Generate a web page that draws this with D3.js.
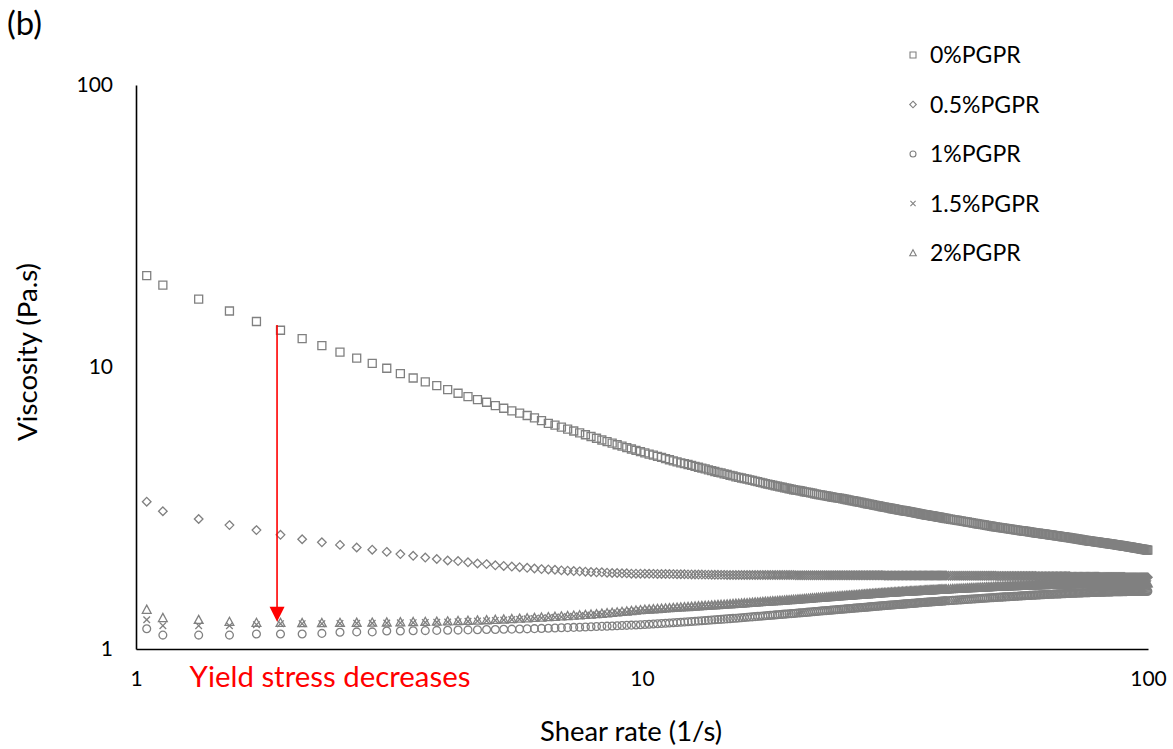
<!DOCTYPE html>
<html><head><meta charset="utf-8">
<script src="https://cdn.jsdelivr.net/npm/d3@7"></script>
<style>
body{margin:0;background:#fff}
svg{display:block}
text{font-family:Lato,"Open Sans","Liberation Sans",sans-serif}
</style>
</head><body>
<svg id="chart" width="1173" height="749"></svg>
<script>
// ---- data ----
const shearRate = [
1.05,1.13,1.33,1.53,1.73,1.93,2.13,2.33,2.53,2.73,2.93,3.13,3.33,3.53,3.73,3.93,4.13,4.33,4.53,4.73,4.93,5.13,5.33,5.53,5.73,5.93,6.13,6.33,6.53,6.73,6.93,7.13,7.33,7.53,7.73,7.93,8.13,8.33,8.53,8.73,8.93,9.13,9.33,9.53,9.73,9.93,
10.13,10.33,10.53,10.73,10.93,11.13,11.33,11.53,11.73,11.93,12.13,12.33,12.53,12.73,12.93,13.13,13.33,13.53,13.73,13.93,14.13,14.33,14.53,14.73,14.93,
15.13,15.33,15.53,15.73,15.93,16.13,16.33,16.53,16.73,16.93,17.13,17.33,17.53,17.73,17.93,18.13,18.33,18.53,18.73,18.93,19.13,19.33,19.53,19.73,19.93,
20.13,20.33,20.53,20.73,20.93,21.13,21.33,21.53,21.73,21.93,22.13,22.33,22.53,22.73,22.93,23.13,23.33,23.53,23.73,23.93,24.13,24.33,24.53,24.73,24.93,
25.13,25.33,25.53,25.73,25.93,26.13,26.33,26.53,26.73,26.93,27.13,27.33,27.53,27.73,27.93,28.13,28.33,28.53,28.73,28.93,29.13,29.33,29.53,29.73,29.93,
30.13,30.33,30.53,30.73,30.93,31.13,31.33,31.53,31.73,31.93,32.13,32.33,32.53,32.73,32.93,33.13,33.33,33.53,33.73,33.93,34.13,34.33,34.53,34.73,34.93,
35.13,35.33,35.53,35.73,35.93,36.13,36.33,36.53,36.73,36.93,37.13,37.33,37.53,37.73,37.93,38.13,38.33,38.53,38.73,38.93,39.13,39.33,39.53,39.73,39.93,
40.33,40.73,41.13,41.53,41.93,42.33,42.73,43.13,43.53,43.93,44.33,44.73,45.13,45.53,45.93,46.33,46.73,47.13,47.53,47.93,48.33,48.73,49.13,49.53,49.93,
50.33,50.73,51.13,51.53,51.93,52.33,52.73,53.13,53.53,53.93,54.33,54.73,55.13,55.53,55.93,56.33,56.73,57.13,57.53,57.93,58.33,58.73,59.13,59.53,59.93,
60.33,60.73,61.13,61.53,61.93,62.33,62.73,63.13,63.53,63.93,64.33,64.73,65.13,65.53,65.93,66.33,66.73,67.13,67.53,67.93,68.33,68.73,69.13,69.53,69.93,
70.33,70.73,71.13,71.53,71.93,72.33,72.73,73.13,73.53,73.93,74.33,74.73,75.13,75.53,75.93,76.33,76.73,77.13,77.53,77.93,78.33,78.73,79.13,79.53,79.93,
80.33,80.73,81.13,81.53,81.93,82.33,82.73,83.13,83.53,83.93,84.33,84.73,85.13,85.53,85.93,86.33,86.73,87.13,87.53,87.93,88.33,88.73,89.13,89.53,89.93,
90.33,90.73,91.13,91.53,91.93,92.33,92.73,93.13,93.53,93.93,94.33,94.73,95.13,95.53,95.93,96.33,96.73,97.13,97.53,97.93,98.33,98.73,99.13,99.53,99.93];

const pgpr0 = [
21.1,19.5,17.4,15.8,14.5,13.5,12.6,11.9,11.3,10.75,10.3,9.9,9.47,9.14,8.85,8.59,8.31,8.07,7.85,7.66,7.50,7.30,7.14,6.99,6.86,6.73,6.60,6.45,6.31,6.22,6.12,6.02,5.93,5.84,5.75,5.67,5.59,5.51,5.44,5.37,5.30,5.24,5.18,5.12,5.06,5.01,
4.96,4.91,4.87,4.82,4.78,4.73,4.69,4.65,4.61,4.57,4.54,4.51,4.48,4.44,4.41,4.38,4.35,4.32,4.29,4.26,4.23,4.21,4.18,4.16,4.13,
4.11,4.08,4.06,4.04,4.02,4.00,3.98,3.96,3.94,3.92,3.90,3.88,3.86,3.84,3.83,3.81,3.79,3.78,3.76,3.75,3.73,3.72,3.70,3.69,3.67,
3.66,3.65,3.64,3.63,3.61,3.60,3.59,3.58,3.57,3.55,3.54,3.53,3.52,3.51,3.50,3.49,3.48,3.47,3.46,3.45,3.44,3.435,3.43,3.42,3.41,
3.40,3.39,3.38,3.37,3.36,3.355,3.345,3.335,3.325,3.32,3.31,3.30,3.29,3.28,3.27,3.265,3.257,3.25,3.24,3.233,3.225,3.217,3.21,3.20,3.193,
3.185,3.178,3.17,3.164,3.157,3.15,3.143,3.136,3.13,3.122,3.116,3.11,3.104,3.098,3.092,3.086,3.08,3.074,3.068,3.062,3.056,3.05,3.044,3.038,3.032,
3.026,3.02,3.014,3.008,3.002,2.997,2.992,2.987,2.982,2.977,2.972,2.967,2.962,2.957,2.952,2.947,2.942,2.937,2.932,2.927,2.922,2.917,2.912,2.907,2.902,
2.893,2.885,2.877,2.869,2.861,2.853,2.845,2.837,2.829,2.821,2.813,2.805,2.797,2.789,2.781,2.774,2.767,2.76,2.753,2.746,2.739,2.732,2.725,2.718,2.711,
2.705,2.699,2.693,2.687,2.681,2.676,2.671,2.666,2.661,2.656,2.651,2.646,2.641,2.636,2.631,2.626,2.621,2.616,2.611,2.606,2.601,2.596,2.591,2.586,2.581,
2.577,2.573,2.569,2.565,2.561,2.557,2.553,2.549,2.545,2.541,2.537,2.533,2.529,2.525,2.521,2.517,2.513,2.509,2.505,2.501,2.497,2.493,2.489,2.485,2.481,
2.477,2.473,2.469,2.465,2.461,2.457,2.453,2.449,2.445,2.441,2.437,2.433,2.429,2.425,2.421,2.418,2.415,2.412,2.409,2.406,2.403,2.40,2.397,2.394,2.391,
2.388,2.385,2.382,2.379,2.376,2.373,2.37,2.367,2.364,2.361,2.358,2.355,2.352,2.349,2.346,2.343,2.34,2.337,2.334,2.331,2.328,2.325,2.322,2.319,2.316,
2.313,2.31,2.307,2.304,2.301,2.298,2.295,2.292,2.289,2.286,2.283,2.28,2.277,2.274,2.271,2.268,2.265,2.262,2.259,2.256,2.253,2.25,2.247,2.244,2.241];

const pgpr05 = [
3.33,3.08,2.89,2.75,2.64,2.54,2.45,2.39,2.34,2.29,2.25,2.21,2.17,2.14,2.11,2.085,2.06,2.05,2.03,2.01,2.00,1.98,1.97,1.96,1.95,1.94,1.93,1.92,1.915,1.91,1.90,1.895,1.89,1.885,1.88,1.875,1.87,1.87,1.865,1.86,1.86,1.855,1.855,1.85,1.85,1.85,
1.849,1.848,1.847,1.846,1.845,1.845,1.844,1.843,1.842,1.841,1.84,1.839,1.838,1.837,1.836,1.836,1.835,1.835,1.834,1.833,1.833,1.832,1.832,1.831,1.83,
1.83,1.83,1.83,1.83,1.83,1.83,1.83,1.83,1.83,1.83,1.83,1.83,1.83,1.83,1.83,1.83,1.83,1.83,1.83,1.83,1.83,1.83,1.83,1.83,1.83,
1.826,1.826,1.826,1.826,1.826,1.826,1.826,1.826,1.826,1.826,1.826,1.826,1.826,1.826,1.826,1.826,1.826,1.826,1.826,1.826,1.826,1.826,1.826,1.826,1.826,
1.826,1.826,1.826,1.826,1.826,1.826,1.826,1.826,1.826,1.826,1.826,1.826,1.826,1.826,1.826,1.826,1.826,1.826,1.826,1.826,1.826,1.826,1.826,1.826,1.826,
1.822,1.822,1.822,1.822,1.822,1.822,1.822,1.822,1.822,1.822,1.822,1.822,1.822,1.822,1.822,1.822,1.822,1.822,1.822,1.822,1.822,1.822,1.822,1.822,1.822,
1.822,1.822,1.822,1.822,1.822,1.822,1.822,1.822,1.822,1.822,1.822,1.822,1.822,1.822,1.822,1.822,1.822,1.822,1.822,1.822,1.822,1.822,1.822,1.822,1.822,
1.818,1.818,1.818,1.818,1.818,1.818,1.818,1.818,1.818,1.818,1.818,1.818,1.818,1.818,1.818,1.818,1.818,1.818,1.818,1.818,1.818,1.818,1.818,1.818,1.818,
1.814,1.814,1.814,1.814,1.814,1.814,1.814,1.814,1.814,1.814,1.814,1.814,1.814,1.814,1.814,1.814,1.814,1.814,1.814,1.814,1.814,1.814,1.814,1.814,1.814,
1.81,1.81,1.81,1.81,1.81,1.81,1.81,1.81,1.81,1.81,1.81,1.81,1.81,1.81,1.81,1.81,1.81,1.81,1.81,1.81,1.81,1.81,1.81,1.81,1.81,
1.805,1.805,1.805,1.805,1.805,1.805,1.805,1.805,1.805,1.805,1.805,1.805,1.805,1.805,1.805,1.805,1.805,1.805,1.805,1.805,1.805,1.805,1.805,1.805,1.805,
1.80,1.80,1.80,1.80,1.80,1.80,1.80,1.80,1.80,1.80,1.80,1.80,1.80,1.80,1.80,1.80,1.80,1.80,1.80,1.80,1.80,1.80,1.80,1.80,1.80,
1.795,1.795,1.795,1.795,1.795,1.795,1.795,1.795,1.795,1.795,1.795,1.795,1.795,1.795,1.795,1.795,1.795,1.795,1.795,1.795,1.795,1.795,1.795,1.795,1.795];

const pgpr1 = [
1.18,1.12,1.12,1.12,1.13,1.13,1.13,1.136,1.146,1.15,1.15,1.158,1.159,1.161,1.162,1.164,1.166,1.167,1.169,1.17,1.172,1.173,1.175,1.176,1.178,1.179,1.181,1.183,1.185,1.187,1.189,1.191,1.193,1.195,1.197,1.199,1.201,1.203,1.205,1.207,1.209,1.211,1.213,1.215,1.217,1.219,
1.222,1.224,1.226,1.229,1.231,1.234,1.236,1.239,1.241,1.244,1.247,1.249,1.252,1.254,1.257,1.26,1.262,1.264,1.267,1.269,1.272,1.274,1.276,1.279,1.281,
1.284,1.286,1.288,1.291,1.293,1.296,1.298,1.30,1.303,1.305,1.307,1.31,1.312,1.314,1.316,1.318,1.321,1.323,1.325,1.327,1.329,1.331,1.333,1.335,1.337,
1.339,1.341,1.343,1.345,1.347,1.349,1.351,1.353,1.355,1.357,1.359,1.361,1.363,1.365,1.366,1.368,1.37,1.372,1.374,1.375,1.377,1.379,1.381,1.383,1.384,
1.386,1.388,1.389,1.391,1.392,1.394,1.396,1.397,1.399,1.40,1.402,1.404,1.405,1.407,1.408,1.41,1.412,1.413,1.415,1.416,1.418,1.419,1.421,1.422,1.424,
1.425,1.426,1.428,1.429,1.431,1.432,1.433,1.435,1.436,1.438,1.439,1.44,1.441,1.442,1.444,1.445,1.446,1.447,1.448,1.45,1.451,1.452,1.453,1.454,1.456,
1.457,1.458,1.459,1.46,1.462,1.463,1.464,1.465,1.466,1.467,1.468,1.469,1.47,1.471,1.472,1.473,1.474,1.475,1.476,1.477,1.478,1.479,1.48,1.481,1.482,
1.483,1.485,1.487,1.489,1.491,1.492,1.494,1.496,1.498,1.50,1.501,1.503,1.505,1.506,1.508,1.509,1.511,1.513,1.514,1.516,1.517,1.519,1.52,1.521,1.523,
1.524,1.526,1.527,1.528,1.53,1.531,1.532,1.533,1.535,1.536,1.537,1.538,1.539,1.541,1.542,1.543,1.544,1.545,1.547,1.548,1.549,1.55,1.551,1.552,1.553,
1.554,1.555,1.556,1.557,1.558,1.559,1.56,1.561,1.562,1.563,1.564,1.564,1.565,1.566,1.567,1.568,1.568,1.569,1.57,1.571,1.572,1.572,1.573,1.574,1.575,
1.575,1.576,1.577,1.577,1.578,1.578,1.579,1.58,1.58,1.581,1.581,1.582,1.583,1.583,1.584,1.584,1.585,1.586,1.586,1.587,1.587,1.588,1.588,1.589,1.589,
1.589,1.59,1.59,1.591,1.591,1.591,1.592,1.592,1.593,1.593,1.593,1.594,1.594,1.595,1.595,1.595,1.596,1.596,1.597,1.597,1.597,1.597,1.598,1.598,1.598,
1.598,1.598,1.599,1.599,1.599,1.599,1.599,1.60,1.60,1.60,1.60,1.60,1.601,1.601,1.601,1.601,1.601,1.602,1.602,1.602,1.602,1.602,1.603,1.603,1.603];

const pgpr15 = [
1.27,1.21,1.21,1.21,1.22,1.23,1.23,1.23,1.232,1.233,1.234,1.236,1.238,1.24,1.242,1.244,1.247,1.25,1.253,1.256,1.259,1.263,1.267,1.271,1.275,1.279,1.283,1.287,1.291,1.295,1.299,1.303,1.307,1.311,1.315,1.319,1.323,1.328,1.333,1.338,1.343,1.348,1.353,1.358,1.363,1.368,
1.372,1.375,1.378,1.381,1.384,1.387,1.39,1.393,1.396,1.399,1.402,1.404,1.407,1.409,1.412,1.415,1.417,1.419,1.422,1.424,1.427,1.429,1.431,1.434,1.436,
1.438,1.441,1.443,1.445,1.447,1.449,1.452,1.454,1.456,1.458,1.46,1.463,1.465,1.467,1.469,1.471,1.473,1.475,1.477,1.479,1.481,1.483,1.485,1.487,1.489,
1.491,1.493,1.495,1.497,1.499,1.501,1.503,1.505,1.507,1.509,1.511,1.513,1.515,1.517,1.518,1.52,1.522,1.524,1.526,1.527,1.529,1.531,1.532,1.534,1.535,
1.537,1.539,1.54,1.542,1.543,1.545,1.547,1.548,1.55,1.551,1.553,1.555,1.556,1.558,1.559,1.561,1.562,1.564,1.565,1.567,1.568,1.569,1.571,1.572,1.574,
1.575,1.576,1.577,1.578,1.58,1.581,1.582,1.583,1.584,1.586,1.587,1.588,1.589,1.59,1.591,1.592,1.593,1.594,1.595,1.596,1.597,1.597,1.598,1.599,1.60,
1.601,1.602,1.603,1.604,1.605,1.606,1.607,1.608,1.609,1.61,1.611,1.611,1.612,1.613,1.614,1.615,1.615,1.616,1.617,1.618,1.619,1.619,1.62,1.621,1.622,
1.623,1.625,1.627,1.628,1.63,1.631,1.633,1.634,1.635,1.637,1.638,1.64,1.641,1.642,1.644,1.645,1.646,1.647,1.649,1.65,1.651,1.652,1.653,1.655,1.656,
1.657,1.658,1.659,1.66,1.661,1.662,1.663,1.664,1.665,1.666,1.667,1.667,1.668,1.669,1.67,1.671,1.671,1.672,1.673,1.674,1.675,1.675,1.676,1.677,1.678,
1.678,1.679,1.68,1.68,1.681,1.681,1.682,1.683,1.683,1.684,1.684,1.685,1.686,1.686,1.687,1.687,1.688,1.689,1.689,1.69,1.69,1.691,1.691,1.692,1.692,
1.692,1.693,1.693,1.694,1.694,1.694,1.695,1.695,1.696,1.696,1.696,1.697,1.697,1.698,1.698,1.698,1.699,1.699,1.70,1.70,1.70,1.70,1.70,1.701,1.701,
1.702,1.702,1.702,1.702,1.702,1.702,1.702,1.702,1.702,1.702,1.703,1.703,1.703,1.703,1.703,1.703,1.703,1.703,1.703,1.703,1.704,1.704,1.704,1.704,1.704,
1.704,1.704,1.704,1.704,1.704,1.705,1.705,1.705,1.705,1.705,1.705,1.705,1.705,1.705,1.705,1.705,1.705,1.705,1.705,1.705,1.705,1.705,1.705,1.705,1.705];

const pgpr2 = [
1.38,1.29,1.27,1.25,1.24,1.24,1.238,1.238,1.24,1.241,1.242,1.244,1.246,1.248,1.25,1.252,1.255,1.258,1.261,1.264,1.267,1.271,1.275,1.279,1.283,1.287,1.291,1.295,1.299,1.303,1.307,1.311,1.315,1.319,1.323,1.327,1.331,1.336,1.341,1.346,1.351,1.356,1.361,1.366,1.371,1.376,
1.38,1.383,1.386,1.389,1.392,1.395,1.398,1.401,1.404,1.407,1.41,1.412,1.415,1.417,1.42,1.423,1.425,1.427,1.43,1.432,1.435,1.437,1.439,1.442,1.444,
1.446,1.449,1.451,1.453,1.455,1.457,1.46,1.462,1.464,1.466,1.468,1.471,1.473,1.475,1.477,1.479,1.481,1.483,1.485,1.487,1.489,1.491,1.493,1.495,1.497,
1.499,1.501,1.503,1.505,1.507,1.509,1.511,1.513,1.515,1.517,1.519,1.521,1.523,1.525,1.526,1.528,1.53,1.532,1.534,1.535,1.537,1.539,1.54,1.542,1.543,
1.545,1.547,1.548,1.55,1.551,1.553,1.555,1.556,1.558,1.559,1.561,1.563,1.564,1.566,1.567,1.569,1.57,1.572,1.573,1.575,1.576,1.577,1.579,1.58,1.582,
1.583,1.584,1.585,1.586,1.588,1.589,1.59,1.591,1.592,1.594,1.595,1.596,1.597,1.598,1.599,1.60,1.601,1.602,1.603,1.604,1.605,1.605,1.606,1.607,1.608,
1.609,1.61,1.611,1.612,1.613,1.614,1.615,1.616,1.617,1.618,1.619,1.619,1.62,1.621,1.622,1.623,1.623,1.624,1.625,1.626,1.627,1.627,1.628,1.629,1.63,
1.631,1.633,1.635,1.636,1.638,1.639,1.641,1.642,1.643,1.645,1.646,1.648,1.649,1.65,1.652,1.653,1.654,1.655,1.657,1.658,1.659,1.66,1.661,1.663,1.664,
1.665,1.666,1.667,1.668,1.669,1.67,1.671,1.672,1.673,1.674,1.675,1.675,1.676,1.677,1.678,1.679,1.679,1.68,1.681,1.682,1.683,1.683,1.684,1.685,1.686,
1.686,1.687,1.688,1.688,1.689,1.689,1.69,1.691,1.691,1.692,1.692,1.693,1.694,1.694,1.695,1.695,1.696,1.697,1.697,1.698,1.698,1.699,1.699,1.70,1.70,
1.70,1.701,1.701,1.702,1.702,1.702,1.703,1.703,1.704,1.704,1.704,1.705,1.705,1.706,1.706,1.706,1.707,1.707,1.708,1.708,1.708,1.708,1.708,1.709,1.709,
1.71,1.71,1.71,1.71,1.71,1.71,1.71,1.71,1.71,1.71,1.711,1.711,1.711,1.711,1.711,1.711,1.711,1.711,1.711,1.711,1.712,1.712,1.712,1.712,1.712,
1.712,1.712,1.712,1.712,1.712,1.713,1.713,1.713,1.713,1.713,1.713,1.713,1.713,1.713,1.713,1.713,1.713,1.713,1.713,1.713,1.713,1.713,1.713,1.713,1.713];

const seriesNames = ["0%PGPR","0.5%PGPR","1%PGPR","1.5%PGPR","2%PGPR"];
const seriesValues = [pgpr0, pgpr05, pgpr1, pgpr15, pgpr2];
const seriesMarkers = ["square","diamond","circle","cross","triangle"];
const xTicks = [1,10,100];
const yTicks = [1,10,100];
const xDomain = [1,100];
const yDomain = [1,100];
const panelLabel = "(b)";
const xTitle = "Shear rate (1/s)";
const yTitle = "Viscosity (Pa.s)";
const noteText = "Yield stress decreases";
const noteX = 1.9, noteTop = 14.1, noteTip = 1.25;

// ---- layout ----
const svg = d3.select("#chart");
const L = 136, R = 1148, T = 85, B = 649;
const x = d3.scaleLog().domain(xDomain).range([L, R]);
const y = d3.scaleLog().domain(yDomain).range([B, T]);
const grey = "#808080";

function markerPath(type, s){
  switch(type){
    case "square": return `M${-s},${-s}H${s}V${s}H${-s}Z`;
    case "diamond": return `M0,${-s}L${s},0L0,${s}L${-s},0Z`;
    case "circle": return `M${s},0A${s},${s} 0 1,1 ${-s},0A${s},${s} 0 1,1 ${s},0Z`;
    case "cross": return `M${-s},${-s}L${s},${s}M${-s},${s}L${s},${-s}`;
    case "triangle": return `M0,${-s}L${s},${s*0.85}L${-s},${s*0.85}Z`;
  }
}
const plotSize = {square:4, diamond:4.3, circle:3.9, cross:3.3, triangle:4.4};
const legSize = {square:3, diamond:3.3, circle:3, cross:2.6, triangle:3.3};

function fitWidth(sel, w){
  const n = sel.node(); const fs = parseFloat(sel.attr("font-size"));
  const cur = n.getComputedTextLength(); sel.attr("font-size", (fs*w/cur).toFixed(2));
}

// series
const gData = svg.append("g");
seriesValues.forEach((vals, i) => {
  const type = seriesMarkers[i];
  const pts = shearRate.map((sr, j) => [sr, vals[j]]).filter(d => d[1] != null);
  gData.append("g").selectAll("path")
    .data(pts)
    .join("path")
    .attr("transform", d => `translate(${x(d[0]).toFixed(2)},${y(d[1]).toFixed(2)})`)
    .attr("d", markerPath(type, plotSize[type]))
    .attr("fill", "none").attr("stroke", grey).attr("stroke-width", 1.3);
});

// axes (no tick marks, Excel style)
const xAxis = d3.axisBottom(x).tickValues(xTicks).tickFormat(d3.format("d")).tickSize(0).tickPadding(22);
const yAxis = d3.axisLeft(y).tickValues(yTicks).tickFormat(d3.format("d")).tickSize(0).tickPadding(23);
const gx = svg.append("g").attr("transform", `translate(0,${B})`).call(xAxis);
const gy = svg.append("g").attr("transform", `translate(${L},0)`).call(yAxis);
[gx, gy].forEach(g => {
  g.select(".domain").attr("stroke", "#000").attr("stroke-width", 1.6);
  g.selectAll("text").attr("font-size", 21).attr("fill", "#000").attr("font-family", "Lato, 'Open Sans', sans-serif");
});

// titles
const xt = svg.append("text").attr("x", 631).attr("y", 741).attr("text-anchor", "middle")
  .attr("font-size", 26).attr("fill", "#000").text(xTitle);
fitWidth(xt, 182);
const yt = svg.append("text").attr("transform", "translate(37,352) rotate(-90)").attr("text-anchor", "middle")
  .attr("font-size", 26).attr("fill", "#000").text(yTitle);
fitWidth(yt, 178);
const pl = svg.append("text").attr("x", 7).attr("y", 35).attr("font-size", 25).attr("fill", "#000").text(panelLabel);
fitWidth(pl, 35);

// legend
const leg = svg.append("g");
seriesNames.forEach((name, i) => {
  const type = seriesMarkers[i];
  const yy = 55 + i * 49.5;
  leg.append("path").attr("transform", `translate(913,${yy})`).attr("d", markerPath(type, legSize[type]))
    .attr("fill", "none").attr("stroke", grey).attr("stroke-width", 1.1);
  leg.append("text").attr("x", 930).attr("y", yy).attr("dy", "0.35em")
    .attr("font-size", 23).attr("fill", "#000").text(name);
});

// annotation arrow
const ax = x(noteX);
svg.append("line").attr("x1", ax).attr("x2", ax).attr("y1", y(noteTop)).attr("y2", y(noteTip) - 14)
  .attr("stroke", "#ff0000").attr("stroke-width", 1.6);
svg.append("path").attr("d", `M${ax-7.5},${y(noteTip)-15}L${ax+7.5},${y(noteTip)-15}L${ax},${y(noteTip)}Z`).attr("fill", "#ff0000");
const nt = svg.append("text").attr("x", 330).attr("y", 687).attr("text-anchor", "middle")
  .attr("font-size", 30).attr("fill", "#ff0000").text(noteText);
fitWidth(nt, 281);
</script>
</body></html>
